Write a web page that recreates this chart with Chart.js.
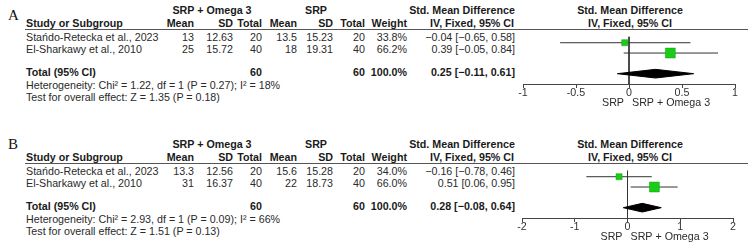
<!DOCTYPE html>
<html lang="en">
<head>
    <meta charset="UTF-8">
    <title>Forest plot - SRP + Omega 3 vs SRP</title>
    <script src="https://cdn.jsdelivr.net/npm/chart.js"></script>
    <style>
        html, body { margin: 0; padding: 0; background: #fff; }
        #page { position: relative; width: 748px; height: 248px; overflow: hidden;
                font-family: "Liberation Sans", Arial, sans-serif; font-size: 10.7px; color: #2a2a2a; }
        .t { position: absolute; height: 14px; line-height: 14px; white-space: nowrap; }
        .b { font-weight: bold; color: #1a1a1a; }
        .letter { position: absolute; font-family: "Liberation Serif", serif; font-size: 15px; color: #111; }
        .hline { position: absolute; height: 0; border-top: 1.5px solid #555; }
        canvas { position: absolute; }
    </style>
</head>
<body>
<div id="page"></div>

<script>
    // studies (same two trials in both panels)
    const studyNames = ['Stańdo-Retecka et al., 2023', 'El-Sharkawy et al., 2010'];

    // panel A
    const omegaMeanA = [13, 25];
    const omegaSdA = [12.63, 15.72];
    const omegaNA = [20, 40];
    const srpMeanA = [13.5, 18];
    const srpSdA = [15.23, 19.31];
    const srpNA = [20, 40];
    const weightA = [33.8, 66.2];
    const smdA = [-0.04, 0.39];
    const lowA = [-0.65, -0.05];
    const highA = [0.58, 0.84];
    const totalA = [0.25, -0.11, 0.61]; // estimate, low, high
    const hetA = ['1.22', '1', '0.27', '18'];  // chi2, df, P, I2
    const effectA = ['1.35', '0.18'];          // Z, P
    const ticksA = [-1, -0.5, 0, 0.5, 1];

    // panel B
    const omegaMeanB = [13.3, 31];
    const omegaSdB = [12.56, 16.37];
    const omegaNB = [20, 40];
    const srpMeanB = [15.6, 22];
    const srpSdB = [15.28, 18.73];
    const srpNB = [20, 40];
    const weightB = [34.0, 66.0];
    const smdB = [-0.16, 0.51];
    const lowB = [-0.78, 0.06];
    const highB = [0.46, 0.95];
    const totalB = [0.28, -0.08, 0.64];
    const hetB = ['2.93', '1', '0.09', '66'];
    const effectB = ['1.51', '0.13'];
    const ticksB = [-2, -1, 0, 1, 2];

    const page = document.getElementById('page');

    function text(str, x, y, align, bold) {
        const d = document.createElement('div');
        d.className = 't' + (bold ? ' b' : '');
        d.textContent = str;
        d.style.top = (y - 7) + 'px';
        if (align === 'right') {
            d.style.right = (748 - x) + 'px';
        } else if (align === 'center') {
            d.style.left = x + 'px';
            d.style.transform = 'translateX(-50%)';
        } else {
            d.style.left = x + 'px';
        }
        page.appendChild(d);
    }

    const minus = v => v.toFixed(2).replace('-', '\u2212');
    const ci = (e, l, h) => `${minus(e)} [${minus(l)}, ${minus(h)}]`;

    function drawTable(p, top) {
        text('SRP + Omega 3', 212, top + 10, 'center', true);
        text('SRP', 316, top + 10, 'center', true);
        text('Std. Mean Difference', 462, top + 10, 'center', true);
        text('Std. Mean Difference', 630, top + 10, 'center', true);
        text('Study or Subgroup', 26, top + 23, 'left', true);
        text('Mean', 194, top + 23, 'right', true);
        text('SD', 233, top + 23, 'right', true);
        text('Total', 262, top + 23, 'right', true);
        text('Mean', 297, top + 23, 'right', true);
        text('SD', 333, top + 23, 'right', true);
        text('Total', 365, top + 23, 'right', true);
        text('Weight', 407, top + 23, 'right', true);
        text('IV, Fixed, 95% CI', 514, top + 23, 'right', true);
        text('IV, Fixed, 95% CI', 630, top + 23, 'center', true);

        const line = document.createElement('div');
        line.className = 'hline';
        line.style.left = '25px';
        line.style.width = '723px';
        line.style.top = (top + 29) + 'px';
        page.appendChild(line);

        studyNames.forEach((name, i) => {
            const y = top + 37 + i * 12;
            text(name, 26, y, 'left');
            text(String(p.omegaMean[i]), 194, y, 'right');
            text(p.omegaSd[i].toFixed(2), 233, y, 'right');
            text(String(p.omegaN[i]), 262, y, 'right');
            text(String(p.srpMean[i]), 297, y, 'right');
            text(p.srpSd[i].toFixed(2), 333, y, 'right');
            text(String(p.srpN[i]), 365, y, 'right');
            text(p.weight[i].toFixed(1) + '%', 407, y, 'right');
            text(ci(p.smd[i], p.low[i], p.high[i]), 515, y, 'right');
        });

        const nOmega = p.omegaN.reduce((a, b) => a + b, 0);
        const nSrp = p.srpN.reduce((a, b) => a + b, 0);
        const wSum = p.weight.reduce((a, b) => a + b, 0);
        text('Total (95% CI)', 26, top + 72, 'left', true);
        text(String(nOmega), 262, top + 72, 'right', true);
        text(String(nSrp), 365, top + 72, 'right', true);
        text(wSum.toFixed(1) + '%', 407, top + 72, 'right', true);
        text(ci(p.total[0], p.total[1], p.total[2]), 515, top + 72, 'right', true);
        text(`Heterogeneity: Chi² = ${p.het[0]}, df = ${p.het[1]} (P = ${p.het[2]}); I² = ${p.het[3]}%`, 26, top + 85, 'left');
        text(`Test for overall effect: Z = ${p.effect[0]} (P = ${p.effect[1]})`, 26, top + 97, 'left');
    }

    // labels under the axis, either side of zero
    const favoursPlugin = {
        id: 'favours',
        afterDraw(chart) {
            const ctx = chart.ctx;
            const x0 = chart.scales.x.getPixelForValue(0);
            const y = chart.chartArea.bottom + 19;
            ctx.save();
            ctx.font = '10.7px "Liberation Sans", Arial, sans-serif';
            ctx.fillStyle = '#2a2a2a';
            ctx.textBaseline = 'middle';
            ctx.textAlign = 'right';
            ctx.fillText('SRP', x0 - 5, y);
            ctx.textAlign = 'left';
            ctx.fillText('SRP + Omega 3', x0 + 3, y);
            ctx.restore();
        }
    };

    function drawPlot(p, top, padLeft, padRight) {
        const canvas = document.createElement('canvas');
        canvas.width = 268;
        canvas.height = 85;
        canvas.style.left = '480px';
        canvas.style.top = (top + 29) + 'px';
        page.appendChild(canvas);

        const rows = studyNames.map((_, i) => i + 1);
        const totalRow = 4;
        const half = 0.42;
        const datasets = [];

        datasets.push({
            label: 'studies',
            data: rows.map((r, i) => ({ x: p.smd[i], y: r })),
            pointStyle: 'rect',
            pointRadius: p.weight.map(w => (2 + w * 0.12) / Math.SQRT2),
            backgroundColor: '#18cc18',
            borderColor: '#10a010',
            borderWidth: 0.5,
            order: 0
        });
        rows.forEach((r, i) => {
            datasets.push({
                label: 'ci' + i,
                data: [{ x: p.low[i], y: r }, { x: p.high[i], y: r }],
                showLine: true,
                borderColor: '#333',
                borderWidth: 1,
                pointRadius: 0,
                order: 2
            });
        });
        datasets.push({
            label: 'zero',
            data: [{ x: 0, y: 0.4 }, { x: 0, y: 5 }],
            showLine: true,
            borderColor: '#333',
            borderWidth: 1,
            pointRadius: 0,
            order: 3
        });
        datasets.push({
            label: 'total',
            data: [
                { x: p.total[1], y: totalRow },
                { x: p.total[0], y: totalRow - half },
                { x: p.total[2], y: totalRow },
                { x: p.total[0], y: totalRow + half },
                { x: p.total[1], y: totalRow }
            ],
            showLine: true,
            fill: 'shape',
            backgroundColor: '#000',
            borderColor: '#000',
            borderWidth: 1,
            pointRadius: 0,
            tension: 0,
            order: 1
        });

        new Chart(canvas, {
            type: 'scatter',
            data: { datasets },
            options: {
                responsive: false,
                animation: false,
                devicePixelRatio: 1,
                layout: { padding: { left: padLeft, right: padRight, top: 0, bottom: 0 } },
                plugins: { legend: { display: false }, tooltip: { enabled: false } },
                scales: {
                    x: {
                        type: 'linear',
                        min: p.ticks[0],
                        max: p.ticks[p.ticks.length - 1],
                        afterBuildTicks: scale => { scale.ticks = p.ticks.map(v => ({ value: v })); },
                        afterFit: scale => { scale.height = 30; },
                        border: { display: true, color: '#444', width: 1 },
                        grid: { drawOnChartArea: false, drawTicks: true, tickLength: 4, color: '#444' },
                        ticks: {
                            padding: -1,
                            color: '#333',
                            font: { family: '"Liberation Sans", Arial, sans-serif', size: 10.7 },
                            maxRotation: 0,
                            callback: v => String(v)
                        }
                    },
                    y: { type: 'linear', reverse: true, min: 0.4, max: 5, display: false }
                }
            },
            plugins: [favoursPlugin]
        });
    }

    const panelA = { omegaMean: omegaMeanA, omegaSd: omegaSdA, omegaN: omegaNA, srpMean: srpMeanA, srpSd: srpSdA,
        srpN: srpNA, weight: weightA, smd: smdA, low: lowA, high: highA, total: totalA, het: hetA, effect: effectA, ticks: ticksA };
    const panelB = { omegaMean: omegaMeanB, omegaSd: omegaSdB, omegaN: omegaNB, srpMean: srpMeanB, srpSd: srpSdB,
        srpN: srpNB, weight: weightB, smd: smdB, low: lowB, high: highB, total: totalB, het: hetB, effect: effectB, ticks: ticksB };

    const letterA = document.createElement('div');
    letterA.className = 'letter';
    letterA.textContent = 'A';
    letterA.style.left = '8px';
    letterA.style.top = '7px';
    page.appendChild(letterA);
    const letterB = document.createElement('div');
    letterB.className = 'letter';
    letterB.textContent = 'B';
    letterB.style.left = '8px';
    letterB.style.top = '136px';
    page.appendChild(letterB);

    drawTable(panelA, 0);
    drawPlot(panelA, 0, 43, 13);
    drawTable(panelB, 134);
    drawPlot(panelB, 134, 42, 15);
</script>
</body>
</html>
